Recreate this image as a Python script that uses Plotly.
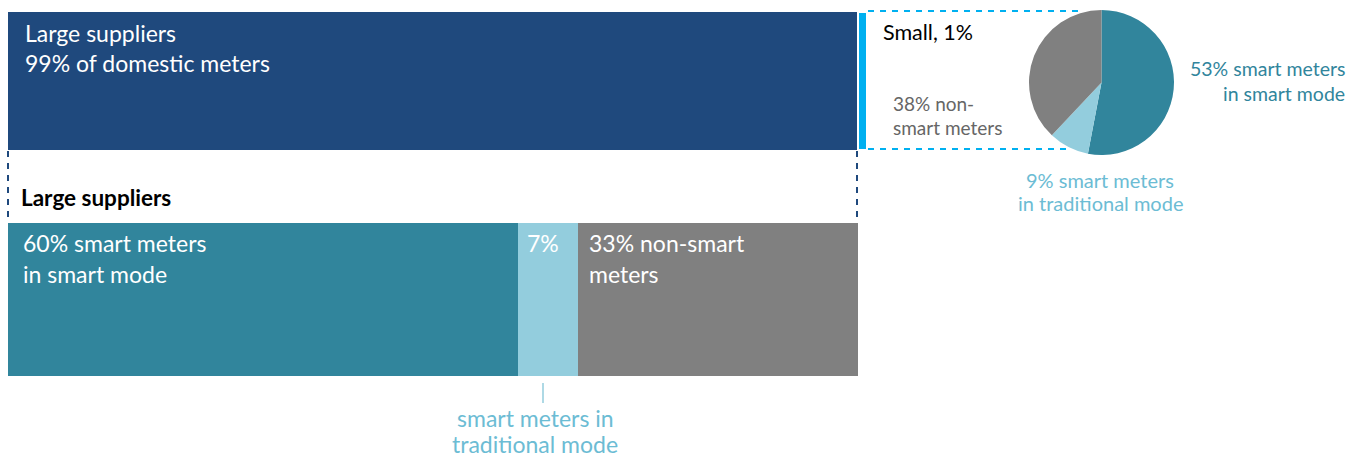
import plotly.graph_objects as go

W, H = 1350, 460

# ---- data ----
top_names = ["Large suppliers", "Small suppliers"]
top_values = [99, 1]
large_names = ["smart meters in smart mode", "smart meters in traditional mode", "non-smart meters"]
large_values = [60, 7, 33]
small_names = ["smart meters in smart mode", "smart meters in traditional mode", "non-smart meters"]
small_values = [53, 9, 38]

C_DARK = "#1F497D"
C_BRIGHT = "#00B0F0"
C_TEAL = "#31859C"
C_LIGHT = "#93CDDD"
C_GRAY = "#808080"
C_LABEL_LIGHT = "#6CBCD4"
seg_colors = [C_TEAL, C_LIGHT, C_GRAY]

def px(x):
    return x / W

def py(y):
    return 1 - y / H

fig = go.Figure()

# top bar (all suppliers)
fig.add_trace(go.Bar(y=["all"], x=[top_values[0]], orientation="h", marker=dict(color=C_DARK, line=dict(width=0)),
                     xaxis="x", yaxis="y", hoverinfo="skip", showlegend=False))
fig.add_trace(go.Bar(y=["all"], x=[top_values[1]], orientation="h", marker=dict(color=C_BRIGHT, line=dict(color="white", width=2)),
                     xaxis="x", yaxis="y", hoverinfo="skip", showlegend=False))

# bottom bar (large suppliers)
for n, v, c in zip(large_names, large_values, seg_colors):
    fig.add_trace(go.Bar(y=["large"], x=[v], orientation="h", name=n, marker=dict(color=c, line=dict(width=0)),
                         xaxis="x2", yaxis="y2", hoverinfo="skip", showlegend=False))

# pie (small suppliers)
fig.add_trace(go.Pie(labels=small_names, values=small_values, sort=False, direction="clockwise", rotation=0,
                     marker=dict(colors=seg_colors, line=dict(width=0)), textinfo="none", hoverinfo="skip",
                     showlegend=False, domain=dict(x=[px(1029), px(1174)], y=[py(155), py(10)])))

ax_common = dict(showgrid=False, zeroline=False, showticklabels=False, showline=False, fixedrange=True)
fig.update_layout(
    width=W, height=H, margin=dict(l=0, r=0, t=0, b=0),
    paper_bgcolor="white", plot_bgcolor="rgba(0,0,0,0)",
    barmode="stack", bargap=0,
    xaxis=dict(domain=[px(8), px(867)], range=[0, 100], anchor="y", **ax_common),
    yaxis=dict(domain=[py(150), py(12)], anchor="x", **ax_common),
    xaxis2=dict(domain=[px(8), px(858)], range=[0, 100], anchor="y2", **ax_common),
    yaxis2=dict(domain=[py(376), py(223)], anchor="x2", **ax_common),
)

shapes = []
# dashed box around "Small"
for (x0, x1, y) in [(868, 1078, 11), (868, 1070, 149)]:
    shapes.append(dict(type="line", xref="paper", yref="paper", x0=px(x0), x1=px(x1), y0=py(y), y1=py(y),
                       line=dict(color=C_BRIGHT, width=2, dash="6px,6px"), layer="below"))
# dashed connectors
for x in [8, 857]:
    shapes.append(dict(type="line", xref="paper", yref="paper", x0=px(x), x1=px(x), y0=py(151), y1=py(222),
                       line=dict(color=C_DARK, width=2, dash="6px,6px"), layer="below"))
# small tick under the 7% segment
shapes.append(dict(type="line", xref="paper", yref="paper", x0=px(543), x1=px(543), y0=py(383), y1=py(403),
                   line=dict(color=C_LIGHT, width=1.5)))
fig.update_layout(shapes=shapes)

FONT_MAIN = "Lato, 'Open Sans', sans-serif"

def ann(text, x, y, size, color, xanchor="left", bold=False, family=FONT_MAIN):
    if bold:
        text = "<b>" + text + "</b>"
    fig.add_annotation(text=text, x=px(x), y=py(y), xref="paper", yref="paper", xanchor=xanchor, yanchor="middle",
                       showarrow=False, font=dict(size=size, color=color, family=family))

ann("Large suppliers", 23, 33, 23, "white")
ann("99% of domestic meters", 23, 63, 23, "white")
ann("Large suppliers", 19, 198, 22.5, "black", bold=True)
ann("60% smart meters", 21, 243, 23, "white")
ann("in smart mode", 21, 274, 23, "white")
ann("7%", 543, 243, 23, "white", xanchor="center")
ann("33% non-smart", 587, 243, 23, "white")
ann("meters", 587, 274, 23, "white")
ann("smart meters in", 535, 418, 23, C_LABEL_LIGHT, xanchor="center")
ann("traditional mode", 535, 444, 23, C_LABEL_LIGHT, xanchor="center")
ann("Small, 1%", 881, 32, 21.5, "black")
ann("38% non-", 891, 103, 19, "#666666")
ann("smart meters", 891, 127, 19, "#666666")
ann("53% smart meters", 1347, 68, 19.5, C_TEAL, xanchor="right")
ann("in smart mode", 1347, 93, 19.5, C_TEAL, xanchor="right")
ann("9% smart meters", 1100, 180, 20, C_LABEL_LIGHT, xanchor="center")
ann("in traditional mode", 1100, 203, 20, C_LABEL_LIGHT, xanchor="center")

fig.write_html("out.html", config={"displayModeBar": False})
